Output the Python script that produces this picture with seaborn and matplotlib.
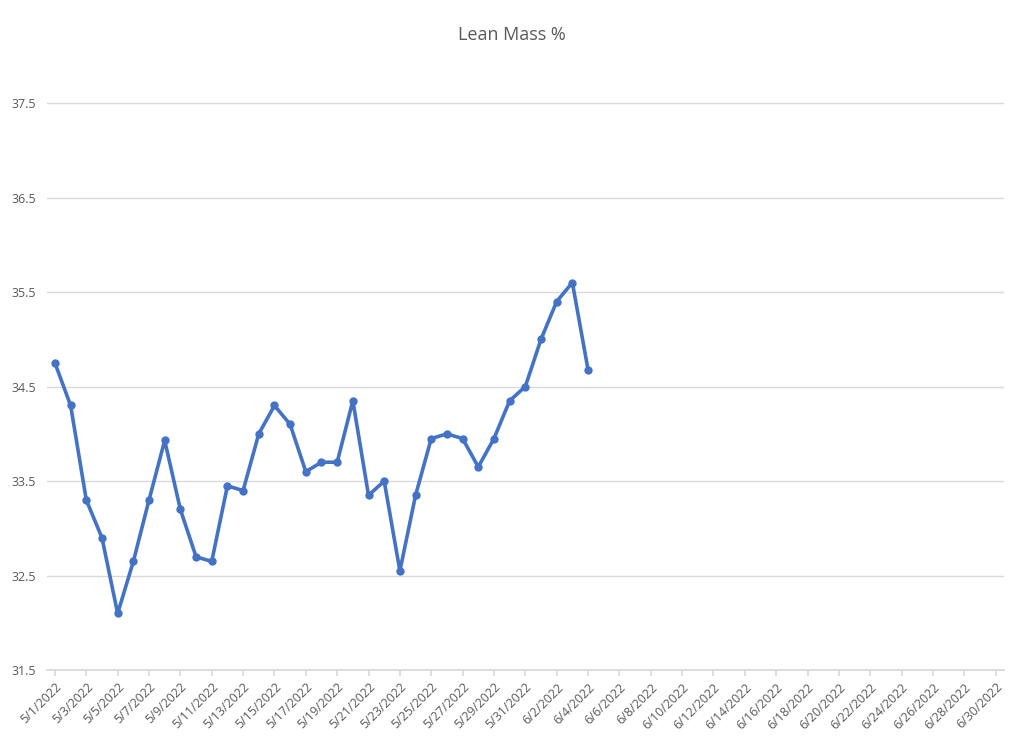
import matplotlib
matplotlib.use("Agg")
import matplotlib.pyplot as plt
import seaborn as sns
import pandas as pd
import numpy as np

dates = pd.date_range("2022-05-01", "2022-06-04", freq="D")
values = [34.75, 34.3, 33.3, 32.9, 32.1, 32.65, 33.3, 33.93, 33.2, 32.7, 32.65,
          33.45, 33.4, 34.0, 34.3, 34.1, 33.6, 33.7, 33.7, 34.35, 33.35, 33.5,
          32.55, 33.35, 33.95, 34.0, 33.95, 33.65, 33.95, 34.35, 34.5, 35.0,
          35.4, 35.6, 34.68]
tick_dates = pd.date_range("2022-05-01", "2022-06-30", freq="2D")
tick_labels = [f"{d.month}/{d.day}/{d.year}" for d in tick_dates]
yticks = [31.5, 32.5, 33.5, 34.5, 35.5, 36.5, 37.5]

sns.set_theme(style="white")
plt.rcParams['font.family'] = ['Open Sans', 'DejaVu Sans']
df = pd.DataFrame({"date": dates, "val": values})

fig = plt.figure(figsize=(10.24, 7.43), dpi=100)
ax = fig.add_axes([0.046, 0.098, 0.934, 0.827])
sns.lineplot(data=df, x="date", y="val", ax=ax, color="#4472C4", linewidth=2.6,
             marker="o", markersize=6, markeredgewidth=0)
ax.set_ylim(31.5, 38)
ax.set_yticks(yticks)
ax.set_yticklabels([f"{v}" for v in yticks], color="#595959", fontsize=9)
ax.set_xlim(pd.Timestamp("2022-05-01") - pd.Timedelta(days=0.5),
            pd.Timestamp("2022-06-30") + pd.Timedelta(days=0.5))
ax.set_xticks(tick_dates)
ax.set_xticklabels(tick_labels, rotation=45, ha="right", rotation_mode="anchor",
                   color="#595959", fontsize=9)
ax.grid(axis="y", color="#D9D9D9", linewidth=1)
for s in ["top", "right", "left"]:
    ax.spines[s].set_visible(False)
ax.spines["bottom"].set_color("#D9D9D9")
ax.tick_params(axis="x", length=4, color="#D9D9D9", direction="out", bottom=True)
ax.tick_params(axis="y", length=0, pad=8)
ax.set_xlabel("")
ax.set_ylabel("")
fig.suptitle("Lean Mass %", y=0.965, fontsize=13, color="#595959")
fig.savefig("out.png", dpi=100)
